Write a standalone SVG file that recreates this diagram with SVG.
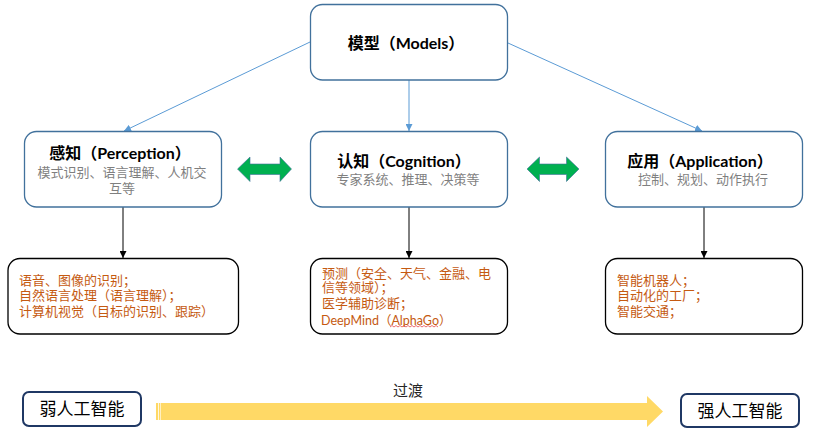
<svg xmlns="http://www.w3.org/2000/svg" width="814" height="435" viewBox="0 0 814 435">
<defs>
<style>
.top{fill:#fff;stroke:#41719C;stroke-width:1.3}
.bot{fill:#fff;stroke:#000;stroke-width:1.3}
.lvl{fill:#fff;stroke:#1F3864;stroke-width:2}
.t{font-family:Lato,"Noto Sans CJK SC",sans-serif;font-weight:bold;font-size:16px;fill:#000;text-anchor:middle}
.s{font-family:"Noto Sans CJK SC",sans-serif;font-size:13px;fill:#7F7F7F;text-anchor:middle}
.o{font-family:"Noto Sans CJK SC",sans-serif;font-size:13px;fill:#C55A11}
.d{font-family:Lato,"Noto Sans CJK SC",sans-serif;font-size:12.5px;fill:#C55A11}
.k{font-family:"Noto Sans CJK SC",sans-serif;font-size:17px;fill:#000;text-anchor:middle}
.blue{stroke:#5B9BD5;stroke-width:1;fill:none}
.blk{stroke:#000;stroke-width:1;fill:none}
.g{fill:#00B050;stroke:#41719C;stroke-width:0.6}
</style>
<marker id="ab" viewBox="0 0 10 10" refX="10" refY="5" markerWidth="7" markerHeight="7" markerUnits="userSpaceOnUse" orient="auto">
<path d="M0,0 L10,5 L0,10 z" fill="#5B9BD5"/>
</marker>
<marker id="ak" viewBox="0 0 10 10" refX="10" refY="5" markerWidth="7" markerHeight="7" markerUnits="userSpaceOnUse" orient="auto">
<path d="M0,0 L10,5 L0,10 z" fill="#000"/>
</marker>
</defs>
<rect width="814" height="435" fill="#fff"/>

<g id="connectors">
<line class="blue" x1="310" y1="42" x2="124" y2="131" marker-end="url(#ab)"/>
<line class="blue" x1="409" y1="80" x2="409" y2="131" marker-end="url(#ab)"/>
<line class="blue" x1="508" y1="43" x2="702" y2="131" marker-end="url(#ab)"/>
<line class="blk" x1="123" y1="207" x2="123" y2="258" marker-end="url(#ak)"/>
<line class="blk" x1="409" y1="207" x2="409" y2="258" marker-end="url(#ak)"/>
<line class="blk" x1="704" y1="207" x2="704" y2="258" marker-end="url(#ak)"/>
<polygon class="g" points="237.5,169 250,157 250,164 280,164 280,157 291.5,169 280,181.5 280,174.5 250,174.5 250,181.5"/>
<polygon class="g" points="527,169 539.5,157 539.5,164 566.5,164 566.5,157 579,169 566.5,181.5 566.5,174.5 539.5,174.5 539.5,181.5"/>
<polygon points="156,403 647,403 647,396 663,411.5 647,427 647,420 156,420" fill="#FFD966"/>
<rect x="158" y="403" width="0.8" height="17" fill="#fff"/>
<rect x="160.2" y="403" width="0.6" height="17" fill="#fff"/>
<text x="408" y="396" style="font-family:'Noto Sans CJK SC',sans-serif;font-size:15px;fill:#262626;text-anchor:middle">过渡</text>
</g>

<g id="models">
<rect class="top" x="310.5" y="4.5" width="197" height="75.5" rx="12"/>
<text class="t" x="406" y="49">模型（Models）</text>
</g>

<g id="perception">
<rect class="top" x="24.5" y="131.5" width="197" height="75.5" rx="12"/>
<text class="t" x="120" y="159">感知（Perception）</text>
<text class="s" x="122" y="177">模式识别、语言理解、人机交</text>
<text class="s" x="122" y="193">互等</text>
</g>

<g id="cognition">
<rect class="top" x="310.5" y="131.5" width="197" height="75.5" rx="12"/>
<text class="t" x="404" y="167">认知（Cognition）</text>
<text class="s" x="408" y="184">专家系统、推理、决策等</text>
</g>

<g id="application">
<rect class="top" x="605.5" y="131.5" width="197" height="75.5" rx="12"/>
<text class="t" x="700" y="167">应用（Application）</text>
<text class="s" x="703" y="184">控制、规划、动作执行</text>
</g>

<g id="perception-detail">
<rect class="bot" x="8" y="258.5" width="230.5" height="75.5" rx="12"/>
<text class="o" x="19" y="285">语音、图像的识别；</text>
<text class="o" x="19" y="299.5">自然语言处理（语言理解）；</text>
<text class="o" x="19" y="316">计算机视觉（目标的识别、跟踪）</text>
</g>

<g id="cognition-detail">
<rect class="bot" x="310.5" y="258.5" width="197" height="75.5" rx="12"/>
<text class="o" x="322" y="278">预测（安全、天气、金融、电</text>
<text class="o" x="322" y="292">信等领域）；</text>
<text class="o" x="322" y="308">医学辅助诊断；</text>
<text class="d" x="321" y="325">DeepMind（AlphaGo）</text>
<path d="M390,327 l2,-1.5 l2,1.5 l2,-1.5 l2,1.5 l2,-1.5 l2,1.5 l2,-1.5 l2,1.5 l2,-1.5 l2,1.5 l2,-1.5 l2,1.5 l2,-1.5 l2,1.5 l2,-1.5 l2,1.5 l2,-1.5 l2,1.5 l2,-1.5 l2,1.5 l2,-1.5 l2,1.5 l2,-1.5 l2,1.5" fill="none" stroke="#E03030" stroke-width="0.7"/>
</g>

<g id="application-detail">
<rect class="bot" x="605.5" y="258.5" width="197" height="75.5" rx="12"/>
<text class="o" x="617" y="285">智能机器人；</text>
<text class="o" x="617" y="300">自动化的工厂；</text>
<text class="o" x="617" y="316">智能交通；</text>
</g>

<g id="weak-ai">
<rect class="lvl" x="23" y="392" width="118" height="34" rx="6"/>
<text class="k" x="82" y="415">弱人工智能</text>
</g>

<g id="strong-ai">
<rect class="lvl" x="681" y="394" width="118" height="33" rx="6"/>
<text class="k" x="740" y="417">强人工智能</text>
</g>
</svg>
